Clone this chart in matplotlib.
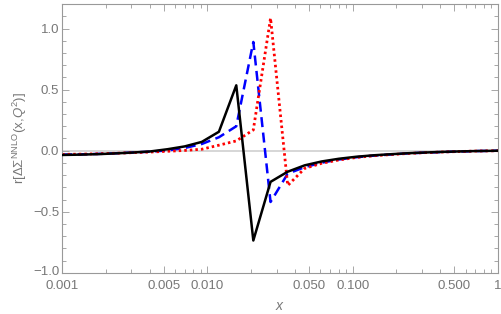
import numpy as np
import matplotlib.pyplot as plt
import matplotlib.transforms as mtransforms
from matplotlib.ticker import FixedLocator, NullFormatter, MultipleLocator

plt.rcParams['font.family'] = ['Liberation Sans', 'DejaVu Sans']
plt.rcParams['mathtext.fontset'] = 'custom'
plt.rcParams['mathtext.rm'] = 'Liberation Sans'
plt.rcParams['mathtext.it'] = 'Liberation Sans:italic'

x = [0.001, 0.00136, 0.00179, 0.00235, 0.00308, 0.00405, 0.00531, 0.00697,
     0.00915, 0.0120, 0.0158, 0.0207, 0.0272, 0.0357, 0.0467, 0.0612, 0.0804,
     0.105, 0.138, 0.182, 0.238, 0.313, 0.41, 0.538, 0.706, 0.927, 1.0]

black = [-0.035, -0.032, -0.028, -0.022, -0.015, -0.006, 0.012, 0.035,
         0.072, 0.155, 0.535, -0.735, -0.255, -0.172, -0.12, -0.088, -0.066,
         -0.05, -0.038, -0.029, -0.021, -0.015, -0.010, -0.006, -0.003, -0.001, 0.0]
blue = [-0.032, -0.030, -0.026, -0.021, -0.015, -0.008, 0.002, 0.022,
        0.055, 0.11, 0.2, 0.89, -0.42, -0.188, -0.135, -0.098, -0.072,
        -0.054, -0.041, -0.031, -0.022, -0.016, -0.011, -0.007, -0.003, -0.001, 0.0]
red = [-0.030, -0.028, -0.025, -0.021, -0.016, -0.011, -0.005, 0.002,
       0.012, 0.045, 0.08, 0.17, 1.085, -0.285, -0.145, -0.103, -0.076,
       -0.056, -0.042, -0.032, -0.023, -0.016, -0.011, -0.007, -0.003, -0.001, 0.0]

xticks = [0.001, 0.005, 0.010, 0.050, 0.100, 0.500, 1]
xticklabels = ['0.001', '0.005', '0.010', '0.050', '0.100', '0.500', '1']
yticks = [-1.0, -0.5, 0.0, 0.5, 1.0]
yticklabels = ['\u22121.0', '\u22120.5', '0.0', '0.5', '1.0']

gray = '#777777'
fig = plt.figure(figsize=(5.01, 3.14), dpi=100)
ax = fig.add_axes([0.124, 0.131, 0.870, 0.856])

ax.axhline(0, color='#d0d0d0', lw=1.2, zorder=1)
ax.plot(x, black, color='black', lw=1.8, zorder=3)
ax.plot(x, blue, color='blue', lw=1.8, ls=(0, (4, 2.2)), zorder=2)
ax.plot(x, red, color='red', lw=2.0, ls=(0, (0.9, 1.1)), zorder=2)

ax.set_xscale('log')
ax.set_xlim(0.001, 1)
ax.set_ylim(-1.0, 1.2)
ax.xaxis.set_major_locator(FixedLocator(xticks))
ax.set_xticklabels(xticklabels)
minor = [m * 10.0**e for e in (-3, -2, -1) for m in range(2, 10)]
ax.xaxis.set_minor_locator(FixedLocator(minor))
ax.xaxis.set_minor_formatter(NullFormatter())
ax.set_yticks(yticks)
ax.set_yticklabels(yticklabels)
ax.yaxis.set_minor_locator(MultipleLocator(0.1))

for s in ax.spines.values():
    s.set_color('#999999')
    s.set_linewidth(0.8)
ax.tick_params(which='both', direction='in', top=True, right=True, colors='#999999',
               labelcolor=gray, labelsize=9.5, width=0.6)
ax.tick_params(which='major', length=5)
ax.tick_params(which='minor', length=3)
ax.tick_params(axis='y', pad=2)
ax.tick_params(axis='x', pad=5)

# nudge the bottom y label up a little so it clears 0.001
lab = ax.get_yticklabels()[0]
lab.set_transform(lab.get_transform() + mtransforms.ScaledTranslation(0, 2 / 72, fig.dpi_scale_trans))

ax.set_xlabel('$x$', color=gray, fontsize=10, labelpad=5)
ax.set_ylabel(r'r[$\Delta\Sigma^{\rm NNLO}$(x,$Q^2$)]', color=gray, fontsize=9.5, labelpad=3)

fig.savefig('out.png', dpi=100)
